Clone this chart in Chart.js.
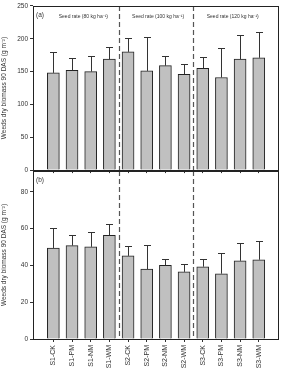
<!DOCTYPE html>
<html lang="en">
<head>
<meta charset="UTF-8">
<title>Weeds dry biomass</title>
<script src="https://cdn.jsdelivr.net/npm/chart.js@4.4.1/dist/chart.umd.min.js"></script>
<style>
  body { margin: 0; background: #fff; }
  #wrap { position: relative; width: 281px; height: 373px; overflow: hidden; }
  canvas { position: absolute; left: 0; }
</style>
</head>
<body>
<div id="wrap">
  <canvas id="chartA" style="top:0px"></canvas>
  <canvas id="chartB" style="top:171px"></canvas>
</div>
<script>
const cats = ['S1-CK','S1-PM','S1-NM','S1-WM','S2-CK','S2-PM','S2-NM','S2-WM','S3-CK','S3-PM','S3-NM','S3-WM']
const topVals = [148, 152, 150, 169, 180, 151, 159, 146, 155, 141, 169, 171]
const topErr = [32, 18, 23, 19, 21, 52, 14, 16, 17, 45, 37, 40]
const botVals = [49.5, 50.8, 50.1, 56.4, 45.2, 38, 40, 36.5, 39.3, 35.5, 42.5, 43.1]
const botErr = [10.7, 6, 7.9, 6.4, 5.2, 13, 3.3, 4.4, 4, 11.4, 9.5, 10]
const topTicks = [0, 50, 100, 150, 200, 250]
const botTicks = [0, 20, 40, 60, 80]
const groupLabels = ['Seed rate (80 kg ha\u207B\u00B9)', 'Seed rate (100 kg ha\u207B\u00B9)', 'Seed rate (120 kg ha\u207B\u00B9)']
const groupCenters = [1.5, 5.5, 9.5]
const dividers = [3.5, 7.5]
const yTitle = 'Weeds dry biomass 90 DAS (g m\u207B\u00B2)'

const font = 'Arial, "Liberation Sans", sans-serif'

// box, dashed dividers, error bars, panel texts
const extras = {
  id: 'extras',
  afterDatasetsDraw(chart, args, opts) {
    const ctx = chart.ctx
    const a = chart.chartArea
    const xs = chart.scales.x, ys = chart.scales.y
    ctx.save()
    // error bars
    ctx.strokeStyle = '#333'
    ctx.lineWidth = 1
    opts.vals.forEach((v, i) => {
      const px = Math.round(xs.getPixelForValue(i)) + 0.5
      const y0 = ys.getPixelForValue(v)
      const y1 = Math.round(ys.getPixelForValue(v + opts.errs[i])) + 0.5
      ctx.beginPath()
      ctx.moveTo(px, y0)
      ctx.lineTo(px, y1)
      ctx.moveTo(px - 3.5, y1)
      ctx.lineTo(px + 3.5, y1)
      ctx.stroke()
    })
    // dashed dividers
    ctx.strokeStyle = '#555'
    ctx.lineWidth = 1.2
    ctx.setLineDash([5, 3])
    dividers.forEach(d => {
      const px = Math.round(xs.getPixelForValue(d)) + 0.5
      ctx.beginPath()
      ctx.moveTo(px, a.top)
      ctx.lineTo(px, a.bottom)
      ctx.stroke()
    })
    ctx.setLineDash([])
    // box
    ctx.strokeStyle = '#222'
    ctx.lineWidth = 1
    ctx.strokeRect(Math.round(a.left) + 0.5, Math.round(a.top) + 0.5, Math.round(a.width), Math.round(a.height))
    // texts
    ctx.fillStyle = '#333'
    ctx.font = '6.5px ' + font
    ctx.textBaseline = 'middle'
    ctx.textAlign = 'left'
    ctx.fillText(opts.tag, a.left + 3, a.top + 9)
    if (opts.groups) {
      ctx.font = '5px ' + font
      ctx.textAlign = 'center'
      groupLabels.forEach((t, i) => {
        ctx.fillText(t, xs.getPixelForValue(groupCenters[i]) + 2, a.top + 11)
      })
    }
    ctx.restore()
  }
}

function makeChart(id, h, vals, errs, ticks, ymax, opts) {
  const el = document.getElementById(id)
  el.width = 281
  el.height = h
  return new Chart(el, {
    type: 'bar',
    data: {
      datasets: [{
        data: vals.map((v, i) => ({ x: i, y: v })),
        backgroundColor: '#c0c0c0',
        borderColor: '#222',
        borderWidth: 1,
        barThickness: 12
      }]
    },
    options: {
      responsive: false,
      maintainAspectRatio: false,
      animation: false,
      layout: { padding: { top: opts.padTop, right: 3, left: 0, bottom: 0 } },
      plugins: {
        legend: { display: false },
        tooltip: { enabled: false },
        extras: { vals: vals, errs: errs, tag: opts.tag, groups: opts.groups }
      },
      scales: {
        x: {
          type: 'linear',
          offset: false,
          min: -1.09,
          max: 12.03,
          afterBuildTicks: ax => { ax.ticks = cats.map((c, i) => ({ value: i })) },
          afterFit: ax => { ax.height = opts.xH },
          grid: { offset: false, drawOnChartArea: false, drawTicks: true, tickLength: 3, color: '#333' },
          border: { display: false },
          ticks: {
            display: opts.xLabels,
            autoSkip: false,
            minRotation: 90,
            maxRotation: 90,
            padding: 3,
            color: '#333',
            font: { size: 7, family: font },
            callback: v => cats[v]
          }
        },
        y: {
          min: 0,
          max: ymax,
          afterBuildTicks: ax => { ax.ticks = ticks.map(v => ({ value: v })) },
          afterFit: ax => { ax.width = 33 },
          grid: { drawOnChartArea: false, drawTicks: true, tickLength: 3, color: '#333' },
          border: { display: false },
          ticks: {
            padding: 2,
            color: '#333',
            font: { size: 6.5, family: font }
          },
          title: {
            display: true,
            text: yTitle,
            color: '#333',
            padding: 0,
            font: { size: 6.5, family: font }
          }
        }
      }
    },
    plugins: [extras]
  })
}

makeChart('chartA', 176, topVals, topErr, topTicks, 250,
  { padTop: 5, xH: 5, xLabels: false, tag: '(a)', groups: true })
const chartB = makeChart('chartB', 202, botVals, botErr, botTicks, 91.4,
  { padTop: 0, xH: 34, xLabels: true, tag: '(b)', groups: false })

// line up the lower panel's top edge with the upper panel's x axis
const t = Math.round(chartB.chartArea.top)
if (t > 0) {
  chartB.resize(281, 202 + t)
  chartB.canvas.style.top = (171 - t) + 'px'
}
</script>
</body>
</html>
